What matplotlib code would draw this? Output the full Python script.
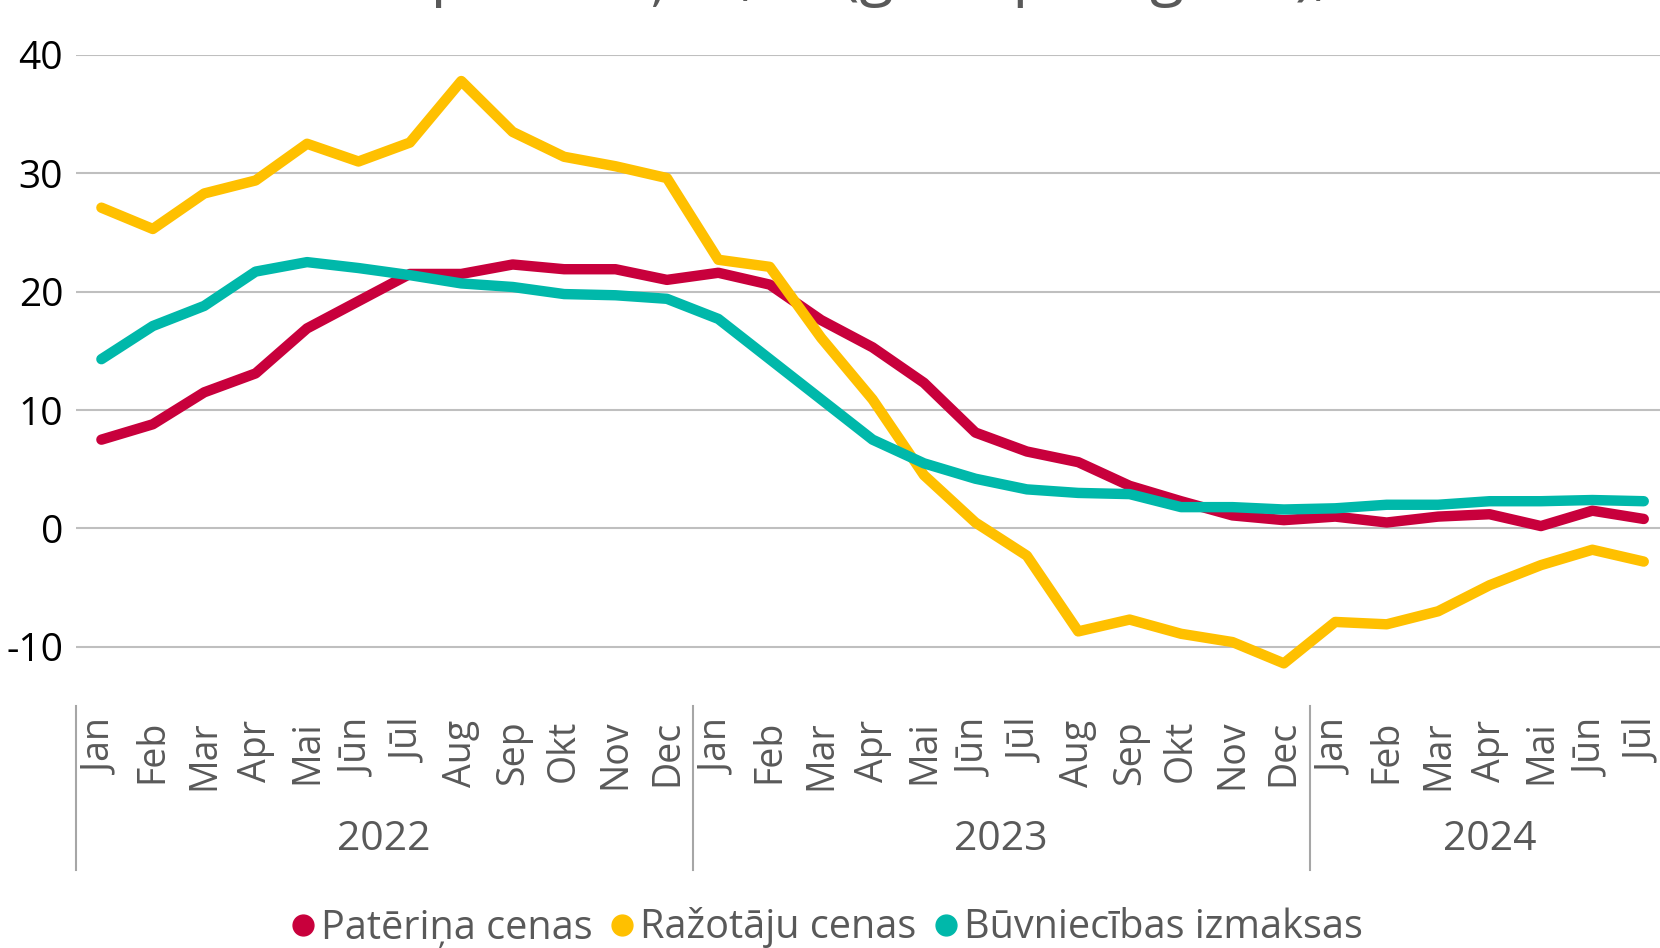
import numpy as np
import matplotlib
matplotlib.use("Agg")
import matplotlib.pyplot as plt
from matplotlib.lines import Line2D

# data (y/y change, %)
months = ['Jan', 'Feb', 'Mar', 'Apr', 'Mai', 'Jūn', 'Jūl', 'Aug', 'Sep', 'Okt', 'Nov', 'Dec',
          'Jan', 'Feb', 'Mar', 'Apr', 'Mai', 'Jūn', 'Jūl', 'Aug', 'Sep', 'Okt', 'Nov', 'Dec',
          'Jan', 'Feb', 'Mar', 'Apr', 'Mai', 'Jūn', 'Jūl']
years = ['2022', '2023', '2024']
year_len = [12, 12, 7]

paterina = [7.5, 8.8, 11.5, 13.1, 16.9, 19.2, 21.5, 21.5, 22.3, 21.9, 21.9, 21.0,
            21.6, 20.6, 17.6, 15.3, 12.3, 8.1, 6.5, 5.6, 3.6, 2.3, 1.1, 0.7,
            1.0, 0.5, 1.0, 1.2, 0.2, 1.5, 0.8]
razotaju = [27.1, 25.3, 28.3, 29.4, 32.5, 31.0, 32.6, 37.8, 33.5, 31.4, 30.6, 29.6,
            22.7, 22.1, 16.1, 10.9, 4.5, 0.5, -2.3, -8.7, -7.7, -8.9, -9.6, -11.4,
            -7.9, -8.1, -7.0, -4.8, -3.1, -1.8, -2.8]
buvniecibas = [14.3, 17.1, 18.8, 21.7, 22.5, 22.0, 21.4, 20.7, 20.4, 19.8, 19.7, 19.4,
               17.7, 14.3, 10.9, 7.5, 5.5, 4.2, 3.3, 3.0, 2.9, 1.8, 1.8, 1.6,
               1.7, 2.0, 2.0, 2.3, 2.3, 2.4, 2.3]

names = ['Patēriņa cenas', 'Ražotāju cenas', 'Būvniecības izmaksas']
colors = ['#C8003C', '#FFC000', '#00B8AA']

grey = '#595959'

fig = plt.figure(figsize=(16.6, 9.48), dpi=100)
ax = fig.add_axes([0.0456, 0.2553, 0.9601, 0.6867])

x = np.arange(len(months))
for ys, c in zip([paterina, razotaju, buvniecibas], colors):
    ax.plot(x, ys, color=c, lw=7.5, solid_capstyle='round', solid_joinstyle='round', zorder=3)

ax.set_ylim(-15, 40)
ax.set_xlim(-0.5, len(months) - 0.5)
ax.set_yticks([-10, 0, 10, 20, 30, 40])
ax.set_yticklabels(['-10', '0', '10', '20', '30', '40'], fontsize=28, family='Open Sans', color='black')
ax.yaxis.grid(True, color='#BFBFBF', lw=1.5)
ax.tick_params(axis='y', length=0, pad=9)
ax.set_xticks(x)
ax.set_xticklabels(months, rotation=90, fontsize=27, family='Open Sans', color=grey, va='top')
ax.tick_params(axis='x', length=0, pad=10)
for s in ax.spines.values():
    s.set_visible(False)

# two-level category axis: separators and year labels
trans = ax.get_xaxis_transform()
edge = -0.5
for yr, n in zip(years, year_len):
    ax.plot([edge, edge], [0, -0.252], transform=trans, color='#A6A6A6', lw=1.5, clip_on=False)
    ax.text(edge + n / 2, -0.205, yr, transform=trans, ha='center', va='center',
            fontsize=29.5, family='Open Sans', color=grey)
    edge += n
ax.plot([edge, edge], [0, -0.252], transform=trans, color='#A6A6A6', lw=1.5, clip_on=False)

# title: only its descenders show at the top edge, as in the reference
fig.text(0.5, 1.0 + 7 / 948, 'Cenu pārmaiņas, % (gads pret gadu), %', ha='center', va='baseline',
         fontsize=45, family='Open Sans', color=grey)

handles = [Line2D([], [], ls='none', marker='o', ms=15, color=c) for c in colors]
fig.legend(handles, names, loc='center', bbox_to_anchor=(828 / 1660, 1 - 928 / 948), ncol=3,
           frameon=False, handlelength=0.5, handletextpad=0.2, columnspacing=0.5,
           prop={'family': 'Open Sans', 'size': 28.5}, labelcolor=grey)

fig.savefig('out.png', dpi=100)
